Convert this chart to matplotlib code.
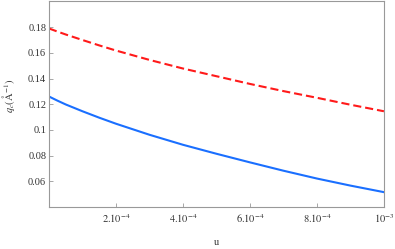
import numpy as np
import matplotlib
matplotlib.use("Agg")
import matplotlib.pyplot as plt

# data
u = [0.0, 0.25e-4, 0.5e-4, 1e-4, 1.5e-4, 2e-4, 3e-4, 4e-4, 5e-4, 6e-4, 7e-4, 8e-4, 9e-4, 1e-3]
qc_red = [0.179, 0.1766, 0.1743, 0.1700, 0.1658, 0.1618, 0.1545, 0.1478, 0.1418, 0.1358, 0.1302, 0.1250, 0.1196, 0.1145]
qc_blue = [0.126, 0.1228, 0.1198, 0.1145, 0.1095, 0.1048, 0.0962, 0.0884, 0.0814, 0.0747, 0.0682, 0.0621, 0.0566, 0.0515]

xticks = [2e-4, 4e-4, 6e-4, 8e-4, 1e-3]
xticklabels = [r"$2.10^{-4}$", r"$4.10^{-4}$", r"$6.10^{-4}$", r"$8.10^{-4}$", r"$10^{-3}$"]
yticks = [0.06, 0.08, 0.10, 0.12, 0.14, 0.16, 0.18]
yticklabels = ["0.06", "0.08", "0.1", "0.12", "0.14", "0.16", "0.18"]

plt.rcParams["font.family"] = ["Liberation Serif", "DejaVu Serif"]
plt.rcParams["mathtext.fontset"] = "stix"

fig = plt.figure(figsize=(3.95, 2.49), dpi=100)
ax = fig.add_axes([0.124, 0.169, 0.848, 0.825])

ax.plot(u, qc_red, color="#ff1a1a", lw=1.5, dashes=(3.9, 1.9))
ax.plot(u, qc_blue, color="#1a6fff", lw=1.5)

ax.set_xlim(0, 1e-3)
ax.set_ylim(0.04, 0.2)
ax.set_xticks(xticks)
ax.set_xticklabels(xticklabels)
ax.set_yticks(yticks)
ax.set_yticklabels(yticklabels)

grey = "#999999"
for s in ax.spines.values():
    s.set_color(grey)
    s.set_linewidth(0.8)
ax.tick_params(direction="in", length=3, width=0.6, color=grey, labelsize=7.5,
               labelcolor="#333333", pad=2)
ax.tick_params(axis="x", pad=4)

ax.set_xlabel("u", fontsize=7.5, color="#333333", labelpad=9)
ax.set_ylabel(r"$q_c(\mathrm{\AA}^{-1})$", fontsize=7.5, color="#333333", labelpad=3)
ax.yaxis.set_label_coords(-0.095, 0.54)

fig.savefig("out.png", dpi=100)
